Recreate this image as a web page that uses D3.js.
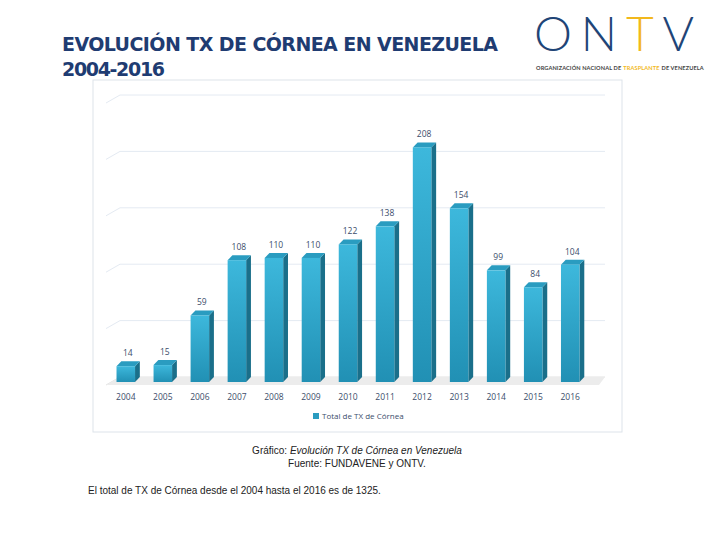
<!DOCTYPE html>
<html><head><meta charset="utf-8">
<script src="https://cdn.jsdelivr.net/npm/d3@7"></script>
<style>body{margin:0;background:#fff}</style>
</head><body>
<svg id="chart" width="712" height="553"></svg>
<script>
// Data
const years = ["2004","2005","2006","2007","2008","2009","2010","2011","2012","2013","2014","2015","2016"];
const values = [14,15,59,108,110,110,122,138,208,154,99,84,104];
const gridTicks = [0,50,100,150,200,250];

const svg = d3.select("#chart");

// Header
svg.append("text").attr("x",62).attr("y",51).attr("textLength",436)
  .attr("font-family","DejaVu Sans").attr("font-weight","bold").attr("font-size",19)
  .attr("fill","#1f3c72").text("EVOLUCIÓN TX DE CÓRNEA EN VENEZUELA");
svg.append("text").attr("x",62).attr("y",76).attr("textLength",103)
  .attr("font-family","DejaVu Sans").attr("font-weight","bold").attr("font-size",19)
  .attr("fill","#1f3c72").text("2004-2016");

// Logo
const logo = svg.append("g").attr("font-family","Lato").attr("fill","#1f4577");
logo.append("text").attr("x",534).attr("y",51).attr("font-size",48).attr("font-weight",300)
  .attr("textLength",160).html('ON<tspan fill="#f2b81c">T</tspan>V');
// subtitle as separate pieces, laid out one after the other
const subParts = [["ORGANIZACIÓN NACIONAL DE ","#444"],["TRASPLANTE","#f2b81c"],[" DE VENEZUELA","#444"]];
let sx = 536;
subParts.forEach(([t,c]) => {
  const el = logo.append("text").attr("x",sx).attr("y",70).attr("font-size",5.6)
    .attr("font-weight","bold").attr("letter-spacing",0.12).attr("fill",c)
    .attr("xml:space","preserve").style("white-space","pre").text(t);
  sx += el.node().getComputedTextLength() + 0.6;
});

// Chart frame
svg.append("rect").attr("x",93).attr("y",80).attr("width",529).attr("height",352)
  .attr("fill","#fff").attr("stroke","#dde3ea");

const chartMargin = {left:98, right:598, top:90, bottom:382};
const xScale = d3.scaleBand().domain(years).range([chartMargin.left, chartMargin.right]).padding(0.5);
const yScale = d3.scaleLinear().domain([0,250]).range([chartMargin.bottom, 100]);
const dx = 8, dy = 5;

// Gridlines (slanted 3D back wall)
svg.append("g").selectAll("path").data(gridTicks).join("path")
  .attr("d", d => `M${chartMargin.left+8} ${yScale(d)+3}L${chartMargin.left+22} ${yScale(d)-dy}L${chartMargin.right+7} ${yScale(d)-dy}`)
  .attr("fill","none").attr("stroke", d => d===0 ? "#e2e2e2" : "#e4eaf2").attr("stroke-width",1);
// floor
svg.append("path")
  .attr("d",`M${chartMargin.left+8} ${yScale(0)+3}L${chartMargin.left+22} ${yScale(0)-dy}L${chartMargin.right+7} ${yScale(0)-dy}L${chartMargin.right+1} ${yScale(0)+3}Z`)
  .attr("fill","#ececec");

const grad = svg.append("defs").append("linearGradient").attr("id","front").attr("x1",0).attr("x2",0).attr("y1",0).attr("y2",1);
grad.append("stop").attr("offset","0%").attr("stop-color","#3db8dc");
grad.append("stop").attr("offset","100%").attr("stop-color","#2190b4");

const bars = svg.append("g").selectAll("g").data(values).join("g");
const bw = xScale.bandwidth();
// side
bars.append("path").attr("d",(d,i)=>{
  const x = xScale(years[i])+bw, y = yScale(d), b = yScale(0);
  return `M${x} ${y}L${x+dx*0.6} ${y-dy}L${x+dx*0.6} ${b-dy}L${x} ${b}Z`;
}).attr("fill","#1a6f8a");
// top
bars.append("path").attr("d",(d,i)=>{
  const x = xScale(years[i]), y = yScale(d);
  return `M${x} ${y}L${x+dx*0.6} ${y-dy}L${x+bw+dx*0.6} ${y-dy}L${x+bw} ${y}Z`;
}).attr("fill","#2a9cc0");
// front
bars.append("rect").attr("x",(d,i)=>xScale(years[i])).attr("y",d=>yScale(d))
  .attr("width",bw).attr("height",d=>yScale(0)-yScale(d)).attr("fill","url(#front)");
// labels
bars.append("text").attr("x",(d,i)=>xScale(years[i])+bw/2+2).attr("y",d=>yScale(d)-10)
  .attr("text-anchor","middle").attr("font-family","Open Sans").attr("font-size",8.5)
  .attr("fill","#3b4d6b").text(d=>d);

// X axis labels
svg.append("g").selectAll("text").data(years).join("text")
  .attr("x",d=>xScale(d)+bw/2).attr("y",400).attr("text-anchor","middle")
  .attr("font-family","Open Sans").attr("font-size",8.5).attr("fill","#3b4d6b").text(d=>d);

// Legend
svg.append("rect").attr("x",313).attr("y",413).attr("width",6).attr("height",6).attr("fill","#2a9cc0");
svg.append("text").attr("x",322).attr("y",419).attr("font-family","Open Sans").attr("font-size",8)
  .attr("fill","#3b4d6b").text("Total de TX de Córnea");

// Caption
svg.append("text").attr("x",357).attr("y",454).attr("text-anchor","middle")
  .attr("font-family","Liberation Sans").attr("font-size",10).attr("fill","#222")
  .html('Gráfico: <tspan font-style="italic">Evolución TX de Córnea en Venezuela</tspan>');
svg.append("text").attr("x",357).attr("y",467).attr("text-anchor","middle")
  .attr("font-family","Liberation Sans").attr("font-size",10).attr("fill","#222")
  .text("Fuente: FUNDAVENE y ONTV.");
svg.append("text").attr("x",88).attr("y",494)
  .attr("font-family","Liberation Sans").attr("font-size",10).attr("fill","#222")
  .text("El total de TX de Córnea desde el 2004 hasta el 2016 es de 1325.");
</script>
</body></html>
